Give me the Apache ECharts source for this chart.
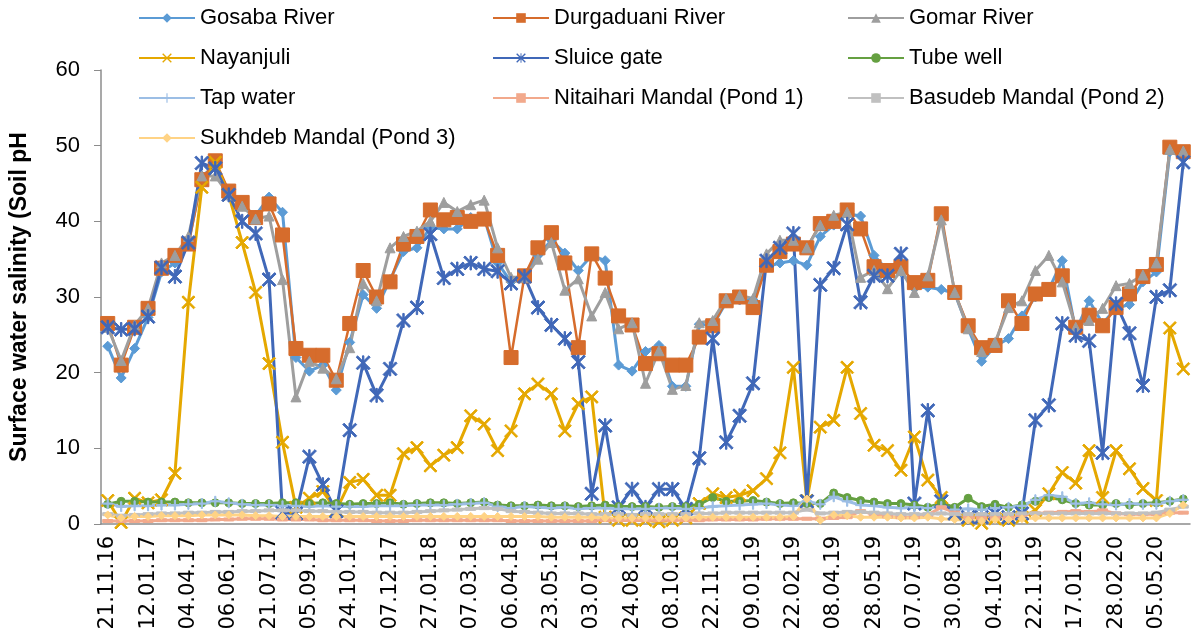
<!DOCTYPE html>
<html>
<head>
<meta charset="utf-8">
<script src="https://cdn.jsdelivr.net/npm/echarts@6/dist/echarts.min.js"></script>
<style>
  html, body { margin: 0; padding: 0; background: #fff; }
  #chart { width: 1198px; height: 639px; }
</style>
</head>
<body>
<div id="chart"></div>
<script>
// dates written under every third sample
var tickDates = ['21.11.16', '12.01.17', '04.04.17', '06.06.17', '21.07.17', '05.09.17', '24.10.17',
  '07.12.17', '27.01.18', '07.03.18', '06.04.18', '23.05.18', '03.07.18', '24.08.18', '08.10.18',
  '22.11.18', '09.01.19', '22.02.19', '08.04.19', '28.05.19', '07.07.19', '30.08.19', '04.10.19',
  '22.11.19', '17.01.20', '28.02.20', '05.05.20'];

// 81 sampling occasions
var categories = [];
for (var i = 0; i < 81; i++) categories.push('s' + i);

var gosaba = [
  23.5, 19.3, 23.2, 27.3, 33.3, 34.5, 37, 46, 47.3, 44,
  42, 40.8, 43.2, 41.2, 22, 20.2, 21, 17.7, 24, 30.3,
  28.5, 32.3, 36, 36.5, 39.2, 39, 39, 40.5, 40.5, 34.5,
  32, 33, 35.5, 37.5, 35.8, 33.5, 35.5, 34.8, 21, 20.2,
  22.8, 23.6, 18.2, 18.2, 26.4, 26.2, 29.3, 29.6, 29.6, 34,
  34.5, 34.8, 34.2, 38, 39.5, 41, 40.7, 35.5, 33.5, 33.3,
  31.2, 31.3, 31, 30.5, 25.8, 21.5, 23.5, 24.5, 27.5, 30,
  31, 34.8, 25.5, 29.5, 26.5, 28.5, 29, 32, 33.3, 49.2,
  48.5];

var durgaduani = [
  26.5, 21, 26, 28.5, 33.8, 35.5, 37, 45.5, 48, 44,
  42.5, 40.5, 42.3, 38.2, 23.2, 22.3, 22.3, 19, 26.5, 33.5,
  30, 32, 37, 38, 41.5, 40.2, 40.5, 40, 40.3, 35.5,
  22, 32.8, 36.5, 38.5, 34.5, 23.3, 35.7, 32.5, 27.5, 26.3,
  21.2, 22.5, 21, 21, 24.7, 26.2, 29.5, 30, 28.6, 34.2,
  36, 37, 36.5, 39.7, 40, 41.5, 39, 34, 33.5, 34,
  31.9, 32.2, 41, 30.6, 26.2, 23.3, 23.6, 29.5, 26.5, 30.4,
  31, 32.8, 26, 27.6, 26.2, 28.6, 30.4, 32.7, 34.3, 49.8,
  49.2];

var gomar = [
  26, 21.6, 26.3, 28.5, 34.5, 35.5, 38, 46, 46, 43.5,
  42, 40.3, 40.7, 32.3, 16.8, 21.5, 20.6, 19.2, 23.3, 31.8,
  29.5, 36.5, 38, 38.7, 40, 42.5, 41.3, 42.2, 42.8, 36.5,
  32.6, 32.6, 35, 37.2, 30.9, 32.4, 27.5, 30.6, 25.8, 26.6,
  18.6, 22.9, 17.8, 18.3, 26.6, 26.9, 29.8, 30.2, 29.8, 35.7,
  37.5, 37.5, 36.5, 39.5, 40.8, 41.2, 32.6, 33.5, 31.1, 33.5,
  30.6, 32.8, 40.2, 30.6, 25.8, 22.8, 24, 28.6, 29.5, 33.5,
  35.5, 32, 26, 26.9, 28.5, 31.5, 31.8, 32.9, 34.5, 49.5,
  49.3];

var nayanjuli = [
  3.1, 0.2, 3.4, 2.8, 3.2, 6.7, 29.3, 44.5, 47.8, 43.5,
  37.2, 30.6, 21.2, 10.8, 2.2, 3.4, 4.3, 1.8, 5.5, 5.9,
  3.8, 3.8, 9.3, 10.1, 7.7, 9.1, 10.1, 14.3, 13.2, 9.7,
  12.3, 17.2, 18.5, 17.2, 12.3, 15.9, 16.8, 0.9, 0.5, 0.5,
  0.5, 0.3, 0.5, 0.8, 2.7, 4, 3.5, 3.8, 4.4, 6,
  9.4, 20.7, 3.1, 12.8, 13.7, 20.7, 14.6, 10.4, 9.7, 7.1,
  11.5, 5.8, 3.5, 1.4, 0.5, 0.1, 0.7, 0.5, 0.9, 1.8,
  4, 6.8, 5.4, 9.7, 3.5, 9.7, 7.3, 4.7, 3.1, 25.9,
  20.5];

var sluiceGate = [
  26, 25.7, 25.8, 27.4, 33.9, 32.7, 37.2, 47.7, 47, 43.5,
  40, 38.4, 32.3, 1.5, 1.4, 8.9, 5.2, 1.7, 12.4, 21.3,
  17, 20.5, 26.9, 28.6, 38.3, 32.5, 33.7, 34.5, 33.7, 33.4,
  31.8, 32.7, 28.6, 26.3, 24.5, 21.4, 4, 13, 2.2, 4.6,
  2.2, 4.6, 4.6, 2, 8.7, 24.5, 10.8, 14.3, 18.6, 34.8,
  36.5, 38.4, 3, 31.6, 33.8, 39.6, 29.3, 32.8, 32.8, 35.7,
  2.7, 15, 3, 1.4, 0.9, 0.9, 1.4, 0.9, 1.4, 13.7,
  15.7, 26.5, 24.9, 24.2, 9.4, 29.1, 25.2, 18.3, 30, 30.9,
  47.8];

var tubeWell = [
  2.6, 3.0, 3.0, 2.9, 2.9, 2.9, 2.8, 2.8, 2.8, 2.8,
  2.7, 2.7, 2.7, 2.8, 2.8, 2.7, 2.8, 2.7, 2.6, 2.7,
  2.7, 2.8, 2.6, 2.7, 2.8, 2.8, 2.7, 2.8, 2.9, 2.5,
  2.4, 2.4, 2.5, 2.4, 2.4, 2.3, 2.4, 2.5, 2.3, 2.3,
  2.3, 2.2, 2.3, 2.3, 2.6, 3.5, 3.0, 3.0, 3.1, 2.9,
  2.7, 2.8, 2.7, 2.7, 4.1, 3.5, 3.1, 2.9, 2.7, 2.7,
  2.5, 2.2, 2.8, 2.2, 3.4, 2.3, 2.6, 2.2, 2.5, 3.0,
  3.5, 3.2, 2.7, 2.5, 2.5, 2.7, 2.5, 2.7, 2.8, 3.0,
  3.3];

var tapWater = [
  2.7, 2.3, 2.4, 2.4, 2.5, 2.5, 2.6, 2.7, 3.0, 2.8,
  2.6, 2.5, 2.5, 2.4, 2.4, 2.3, 2.4, 2.3, 2.3, 2.3,
  2.4, 2.4, 2.4, 2.5, 2.5, 2.5, 2.6, 2.7, 2.8, 2.3,
  2.1, 2.3, 2.2, 2.1, 2.2, 2.0, 2.1, 2.1, 2.0, 2.0,
  2.0, 2.1, 2.1, 2.0, 2.1, 2.3, 2.4, 2.5, 2.6, 2.7,
  2.5, 2.4, 3.0, 2.6, 3.6, 3.0, 2.5, 2.4, 2.2, 2.1,
  2.2, 2.1, 2.3, 1.9, 2.0, 1.9, 2.1, 2.2, 2.4, 3.2,
  3.8, 3.6, 2.7, 2.8, 2.6, 2.5, 2.7, 2.6, 2.6, 3.0,
  3.2];

var nitaihari = [
  0.4, 0.4, 0.4, 0.4, 0.5, 0.5, 0.5, 0.5, 0.6, 0.6,
  0.7, 0.7, 0.7, 0.6, 0.6, 0.6, 0.5, 0.5, 0.5, 0.5,
  0.4, 0.4, 0.4, 0.5, 0.5, 0.5, 0.5, 0.5, 0.5, 0.5,
  0.4, 0.4, 0.4, 0.4, 0.4, 0.4, 0.4, 0.5, 0.5, 0.5,
  0.5, 0.5, 0.5, 0.5, 0.5, 0.6, 0.6, 0.6, 0.6, 0.7,
  0.7, 0.7, 0.7, 0.7, 0.8, 0.9, 1.7, 1.3, 1.0, 0.9,
  0.9, 1.2, 2.2, 1.5, 0.9, 0.8, 0.8, 0.8, 1.2, 1.4,
  1.5, 1.6, 1.7, 1.6, 1.8, 1.4, 1.3, 1.3, 1.3, 1.5,
  1.5];

var basudeb = [
  1.3, 1.1, 1.2, 1.3, 1.4, 1.4, 1.5, 1.5, 1.6, 1.6,
  1.7, 1.7, 1.8, 1.8, 1.8, 1.7, 1.7, 1.6, 1.6, 1.6,
  1.5, 1.5, 1.5, 1.6, 1.7, 1.8, 1.9, 2.0, 2.1, 2.0,
  1.7, 1.6, 1.5, 1.4, 1.4, 1.4, 1.3, 1.3, 1.3, 1.2,
  1.3, 1.3, 1.3, 1.3, 1.4, 1.4, 1.5, 1.5, 1.5, 1.5,
  1.5, 1.5, 1.9, 1.4, 1.5, 1.6, 1.6, 1.5, 1.4, 1.3,
  1.3, 1.3, 1.4, 1.3, 1.3, 1.3, 1.3, 1.3, 1.4, 1.4,
  1.4, 1.4, 1.4, 1.4, 1.4, 1.4, 1.4, 1.4, 1.5, 1.9,
  2.3];

var sukhdeb = [
  1.2, 0.8, 1.0, 1.0, 1.1, 1.1, 1.1, 1.2, 1.2, 1.2,
  1.2, 1.1, 1.1, 1.0, 1.0, 1.0, 1.0, 1.0, 1.0, 1.0,
  1.0, 1.0, 1.0, 1.0, 1.0, 1.0, 1.0, 1.0, 1.0, 1.0,
  1.0, 1.0, 1.0, 0.9, 0.9, 0.9, 0.9, 0.8, 0.8, 0.8,
  0.8, 0.8, 0.8, 0.8, 0.9, 0.9, 0.9, 0.9, 0.9, 0.9,
  0.9, 1.0, 3.3, 0.5, 1.2, 1.1, 0.9, 0.9, 0.9, 0.8,
  0.8, 0.9, 0.7, 0.6, 0.5, 0.4, 0.6, 0.6, 0.7, 0.8,
  0.8, 0.8, 0.8, 0.8, 0.8, 0.8, 0.8, 0.8, 0.8, 1.4,
  2.5];

// marker shapes that echarts has no name for
var crossMark = 'path://M0,1 L1,0 L10,9 L9,10 Z M9,0 L10,1 L1,10 L0,9 Z';
var starMark = 'path://M0,1 L1,0 L10,9 L9,10 Z M9,0 L10,1 L1,10 L0,9 Z M4.5,0 L5.5,0 L5.5,10 L4.5,10 Z';
var plusMark = 'path://M4.4,0 L5.6,0 L5.6,10 L4.4,10 Z M0,4.4 L10,4.4 L10,5.6 L0,5.6 Z';
var dashMark = 'path://M0,0 L10,0 L10,3 L0,3 Z';

function lineSeries(name, data, color, symbol, size, width) {
  return {
    name: name,
    type: 'line',
    data: data,
    symbol: symbol,
    symbolSize: size,
    symbolKeepAspect: true,
    showAllSymbol: true,
    color: color,
    lineStyle: { color: color, width: width },
    itemStyle: { color: color, borderColor: color },
    emphasis: { disabled: true }
  };
}

var labelFont = 'Liberation Sans';
var legendBase = {
  orient: 'vertical',
  top: 7,
  padding: 0,
  itemWidth: 56,
  itemHeight: 12,
  itemGap: 18,
  textStyle: { fontFamily: labelFont, fontSize: 22, lineHeight: 22, color: '#000' }
};

var myChart = echarts.init(document.getElementById('chart'));
var option = {
  animation: false,
  backgroundColor: '#fff',
  legend: [
    Object.assign({}, legendBase, { left: 138, data: ['Gosaba River', 'Nayanjuli', 'Tap water', 'Sukhdeb Mandal (Pond 3)'] }),
    Object.assign({}, legendBase, { left: 492, data: ['Durgaduani River', 'Sluice gate', 'Nitaihari Mandal (Pond 1)'] }),
    Object.assign({}, legendBase, { left: 847, data: ['Gomar River', 'Tube well', 'Basudeb Mandal (Pond 2)'] })
  ],
  grid: { left: 100, right: 8, top: 70, bottom: 115 },
  xAxis: {
    type: 'category',
    data: categories,
    boundaryGap: true,
    axisLine: { lineStyle: { color: '#8c8c8c', width: 1.5 } },
    axisTick: { interval: 0, length: 7, lineStyle: { color: '#8c8c8c' } },
    axisLabel: {
      interval: 2,
      rotate: 90,
      margin: 12,
      fontFamily: 'DejaVu Sans',
      fontSize: 21,
      color: '#000',
      formatter: function (v, idx) { return tickDates[idx / 3] || ''; }
    },
    splitLine: { show: false }
  },
  yAxis: {
    type: 'value',
    min: 0,
    max: 60,
    interval: 10,
    name: 'Surface water salinity (Soil pH',
    nameLocation: 'middle',
    nameGap: 70,
    nameTextStyle: { fontFamily: labelFont, fontSize: 23, fontWeight: 'bold', color: '#000' },
    axisLine: { show: true, lineStyle: { color: '#8c8c8c', width: 1.5 } },
    axisTick: { show: true, length: 7, lineStyle: { color: '#8c8c8c' } },
    axisLabel: { fontFamily: labelFont, fontSize: 22, color: '#000', margin: 21 },
    splitLine: { show: false }
  },
  series: [
    lineSeries('Gosaba River', gosaba, '#5B9BD5', 'diamond', 10, 3),
    lineSeries('Durgaduani River', durgaduani, '#D66C2C', 'rect', 14, 2.5),
    lineSeries('Gomar River', gomar, '#9E9E9E', 'triangle', 10, 3),
    lineSeries('Nayanjuli', nayanjuli, '#E5A800', crossMark, 13, 3),
    lineSeries('Sluice gate', sluiceGate, '#4068B8', starMark, 14, 3),
    lineSeries('Tube well', tubeWell, '#65A041', 'circle', 8, 3),
    lineSeries('Tap water', tapWater, '#9CBEE5', plusMark, 10, 3),
    lineSeries('Nitaihari Mandal (Pond 1)', nitaihari, '#F2A98C', dashMark, 10, 3),
    lineSeries('Basudeb Mandal (Pond 2)', basudeb, '#C0C0C0', dashMark, 10, 3),
    lineSeries('Sukhdeb Mandal (Pond 3)', sukhdeb, '#FFD385', 'diamond', 8, 3)
  ]
};
myChart.setOption(option);
</script>
</body>
</html>
